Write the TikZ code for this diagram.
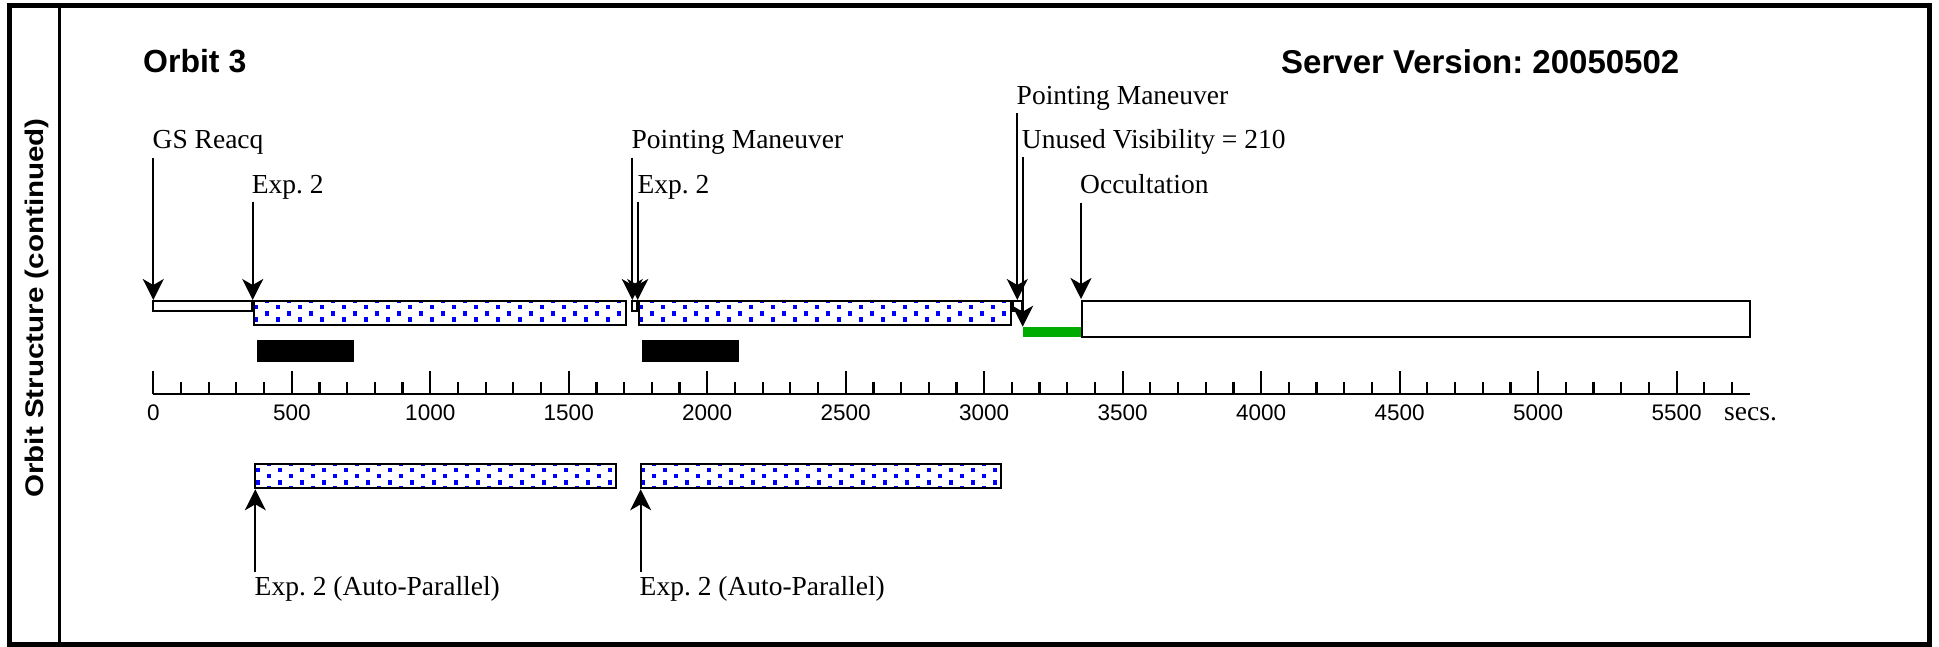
\documentclass[tikz,border=0pt]{standalone}
\usepackage{graphicx}
\usepackage{fontspec}
\setmainfont{Liberation Serif}
\newfontfamily\headfont{Liberation Sans}
\usetikzlibrary{arrows.meta}
\frenchspacing

\definecolor{dotcol}{RGB}{0,0,255}
\definecolor{visgreen}{RGB}{0,172,0}

\tikzset{
  x=1pt, y=-1pt,
  frameline/.style={line width=4.6pt},
  divider/.style={line width=3.4pt},
  lbl/.style={font=\fontsize{27.5}{30}\selectfont, anchor=base west, inner sep=0pt},
  heading/.style={font=\headfont\bfseries\fontsize{32}{36}\selectfont, anchor=base west, inner sep=0pt},
  sidelabel/.style={font=\headfont\bfseries\fontsize{25.5}{28}\selectfont, rotate=90, anchor=base, inner sep=0pt},
  ptr/.style={line width=2.2pt, -{Stealth[length=21pt,width=21pt,inset=6pt]}},
  plainbox/.style={draw, line width=2.2pt, fill=white},
  outlinebox/.style={draw, line width=2.2pt},
  usedbar/.style={fill=black},
  sparebar/.style={fill=visgreen},
  axisline/.style={line width=2.2pt},
  num/.style={font=\headfont\fontsize{22.5}{24}\selectfont, anchor=base, inner sep=0pt},
}

% staggered blue dots clipped to a rectangle: x0 y0 x1 y1
\newcommand\bluedots[4]{%
  \begin{scope}
    \clip (#1,#2) rectangle (#3,#4);
    \pgfmathtruncatemacro\ncol{(#3-#1)/11+1}
    \foreach \k in {0,...,\ncol}{%
      \pgfmathsetmacro\cx{#1+2.5+11*\k}
      \ifodd\k
        \foreach \dy in {-0.3,12.3,24.9}{\fill[dotcol] (\cx-2.2,#2+\dy-2.2) rectangle ++(4.4,4.4);}
      \else
        \foreach \dy in {6,18.6}{\fill[dotcol] (\cx-2.2,#2+\dy-2.2) rectangle ++(4.4,4.4);}
      \fi
    }
  \end{scope}}

% white box with blue dots and an outline
\newcommand\dottedbox[4]{%
  \fill[white] (#1,#2) rectangle (#3,#4);
  \bluedots{#1}{#2}{#3}{#4}
  \path[outlinebox] (#1,#2) rectangle (#3,#4);}

\begin{document}
\begin{tikzpicture}
\useasboundingbox (0,0) rectangle (1939,647);

% outer frame and side column
\draw[frameline] (9.3,5.8) rectangle (1929.5,644.5);
\draw[divider] (59.2,5.8) -- (59.2,644.5);
\node[sidelabel] (side) at (43,308) {\scalebox{1.16}[1]{Orbit Structure (continued)}};

% headings
\node[heading] (orbit) at (143,73) {Orbit 3};
\node[heading, font=\headfont\bfseries\fontsize{33}{36}\selectfont] (server) at (1281,73.3) {Server Version: 20050502};

% ---- upper timeline row ----
\path[plainbox] (153.3,301) rectangle (252.2,310.8);
\dottedbox{253.7}{301}{626.3}{325}
\path[plainbox] (632.3,301) rectangle (636.7,310.8);
\dottedbox{638.7}{301}{1010.7}{325}
\path[plainbox] (1012.7,301) rectangle (1021.7,310.8);
\fill[sparebar] (1022.7,326.7) rectangle (1081,336.7);
\path[plainbox] (1082,301) rectangle (1750,337);

% exposure bars
\fill[usedbar] (257.3,340) rectangle (354,362);
\fill[usedbar] (642,340) rectangle (739,362);

% event labels
\node[lbl] (gs)   at (152.5,148.3) {GS Reacq};
\node[lbl] (ex1)  at (251.7,193.3) {Exp. 2};
\node[lbl] (pm1)  at (631.5,148.3) {Pointing Maneuver};
\node[lbl] (ex2)  at (637.4,193.3) {Exp. 2};
\node[lbl] (pm2)  at (1016.5,105)  {Pointing Maneuver};
\node[lbl] (uv)   at (1021.7,149)  {Unused Visibility = 210};
\node[lbl] (occ)  at (1080,193.3)  {Occultation};

% arrow ends
\coordinate (gs-t)  at (153.3,158.3);  \coordinate (gs-h)  at (153.3,300);
\coordinate (ex1-t) at (252.7,201.7);  \coordinate (ex1-h) at (252.7,300);
\coordinate (pm1-t) at (632.3,157.7);  \coordinate (pm1-h) at (632.3,300);
\coordinate (ex2-t) at (637.7,201.7);  \coordinate (ex2-h) at (637.7,300);
\coordinate (pm2-t) at (1017.3,113.3); \coordinate (pm2-h) at (1017.3,300);
\coordinate (uv-t)  at (1022.7,157.3); \coordinate (uv-h)  at (1022.7,326.7);
\coordinate (occ-t) at (1081,202.7);   \coordinate (occ-h) at (1081,299);

\draw[ptr] (gs-t) -- (gs-h);
\draw[ptr] (ex1-t) -- (ex1-h);
\draw[ptr] (pm1-t) -- (pm1-h);
\draw[ptr] (ex2-t) -- (ex2-h);
\draw[ptr] (pm2-t) -- (pm2-h);
\draw[ptr] (uv-t) -- (uv-h);
\draw[ptr] (occ-t) -- (occ-h);

% ---- time axis ----
\coordinate (ax0) at (153.3,394.3);
\coordinate (ax1) at (1749.5,394.3);
\draw[axisline] (ax0) -- (ax1);
\foreach \t in {0,100,...,5700}{%
  \pgfmathsetmacro\xx{153.3+0.27696*\t}
  \pgfmathtruncatemacro\ismaj{mod(\t,500)==0 ? 1 : 0}
  \ifnum\ismaj=1
    \draw[axisline] (\xx,394.3) -- (\xx,371);
    \node[num] at (\xx,420) {\t};
  \else
    \draw[axisline] (\xx,394.3) -- (\xx,382);
  \fi
}
\node[lbl] (secs) at (1724,420) {secs.};

% ---- lower (auto-parallel) row ----
\dottedbox{255.3}{463.7}{615.8}{488.3}
\dottedbox{640.7}{463.7}{1000.7}{488.3}
\node[lbl] (ap1) at (254.5,595) {Exp. 2 (Auto-Parallel)};
\node[lbl] (ap2) at (639.5,595) {Exp. 2 (Auto-Parallel)};
\coordinate (ap1-t) at (255.3,572); \coordinate (ap1-h) at (255.3,489.3);
\coordinate (ap2-t) at (640.7,572); \coordinate (ap2-h) at (640.7,489.3);
\draw[ptr] (ap1-t) -- (ap1-h);
\draw[ptr] (ap2-t) -- (ap2-h);
\end{tikzpicture}
\end{document}
